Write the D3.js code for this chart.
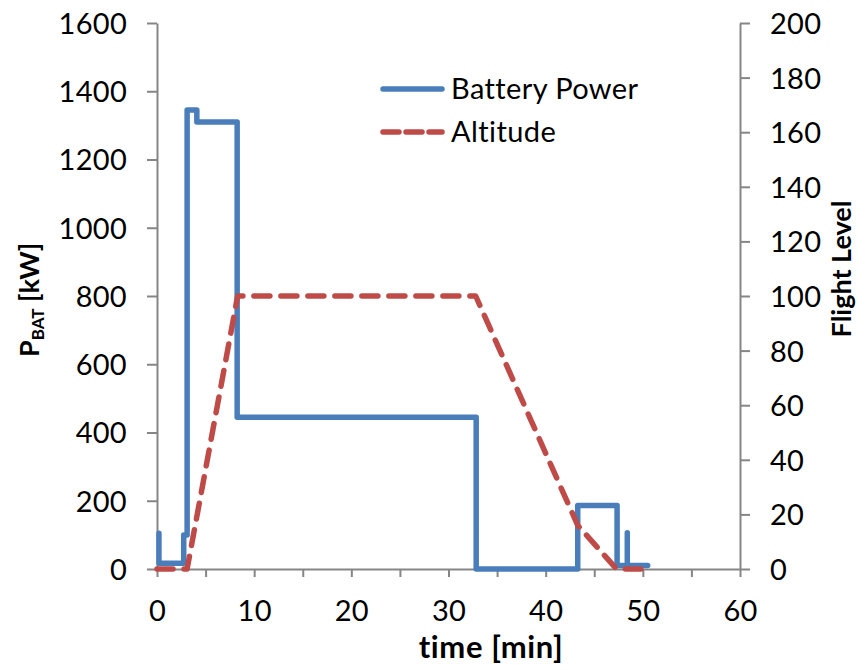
<!DOCTYPE html>
<html>
<head>
<meta charset="utf-8">
<script src="https://cdn.jsdelivr.net/npm/d3@7"></script>
<style>
  html, body { margin: 0; padding: 0; background: #fff; }
  svg { display: block; font-family: Lato, "Open Sans", sans-serif; }
</style>
</head>
<body>
<svg id="chart" width="861" height="671"></svg>
<script>
// ---- data ----
const powerTime  = [0.2, 0.2, 2.75, 2.75, 3.1, 3.1, 4.1, 4.1, 8.25, 8.25, 32.85, 32.85, 43.3, 43.3, 47.35, 47.35, 48.4, 48.4, 48.4, 50.5];
const powerValue = [105, 17, 17, 100, 100, 1345, 1345, 1310, 1310, 445, 445, 0, 0, 186, 186, 10, 10, 106, 10, 10];
const altTime    = [0, 3.1, 8.3, 32.8, 43.3, 47.3, 49.8];
const altFL      = [0, 0, 100, 100, 16, 0, 0];
const xTicks     = [0, 5, 10, 15, 20, 25, 30, 35, 40, 45, 50, 55, 60];
const yLeftTicks = [0, 200, 400, 600, 800, 1000, 1200, 1400, 1600];
const yRightTicks= [0, 20, 40, 60, 80, 100, 120, 140, 160, 180, 200];
const seriesNames = ["Battery Power", "Altitude"];

// ---- layout ----
const svg = d3.select("#chart");
const L = 157, R = 740, T = 23, B = 569;
const axisColor = "#868686";
const blue = "#4A7EBB", red = "#BE4B48";
const tickFont = 29;
const fmt = d3.format("d");

const x  = d3.scaleLinear().domain([0, 60]).range([L, R]);
const yL = d3.scaleLinear().domain([0, 1600]).range([B, T]);
const yR = d3.scaleLinear().domain([0, 200]).range([B, T]);

function styleAxis(g) {
  g.selectAll("path.domain").attr("stroke", axisColor).attr("stroke-width", 2);
  g.selectAll(".tick line").attr("stroke", axisColor).attr("stroke-width", 2);
  g.selectAll(".tick text").attr("fill", "#000").style("font-size", tickFont + "px")
    .style("letter-spacing", "0.3px")
    .style("font-family", "Lato, 'Open Sans', sans-serif");
}

// left axis
const gL = svg.append("g").attr("transform", `translate(${L},0)`)
  .call(d3.axisLeft(yL).tickValues(yLeftTicks).tickFormat(fmt).tickSize(10).tickSizeOuter(0).tickPadding(20));
styleAxis(gL);
gL.selectAll(".tick text").attr("dy", "0.36em");

// right axis
const gR = svg.append("g").attr("transform", `translate(${R},0)`)
  .call(d3.axisRight(yR).tickValues(yRightTicks).tickFormat(fmt).tickSize(10).tickSizeOuter(0).tickPadding(20));
styleAxis(gR);
gR.selectAll(".tick text").attr("dy", "0.36em");

// bottom axis
const gX = svg.append("g").attr("transform", `translate(0,${B})`)
  .call(d3.axisBottom(x).tickValues(xTicks).tickSize(8).tickSizeOuter(0)
    .tickFormat(d => d % 10 === 0 ? fmt(d) : ""));
styleAxis(gX);
gX.selectAll(".tick text").attr("y", 52).attr("dy", 0);

// ---- series ----
const powerData = powerTime.map((t, i) => [t, powerValue[i]]);
const altData = altTime.map((t, i) => [t, altFL[i]]);

svg.append("path")
  .datum(powerData)
  .attr("fill", "none")
  .attr("stroke", blue)
  .attr("stroke-width", 5.5)
  .attr("stroke-linejoin", "round")
  .attr("stroke-linecap", "round")
  .attr("d", d3.line().x(d => x(d[0])).y(d => yL(d[1])));

svg.append("path")
  .datum(altData)
  .attr("fill", "none")
  .attr("stroke", red)
  .attr("stroke-width", 5.5)
  .attr("stroke-linejoin", "round")
  .attr("stroke-linecap", "round")
  .attr("stroke-dasharray", "16,11")
  .attr("d", d3.line().x(d => x(d[0])).y(d => yR(d[1])));

// ---- legend ----
const legendY = [89, 132];
const legend = svg.append("g");
seriesNames.forEach((name, i) => {
  const ln = legend.append("line")
    .attr("x1", 383).attr("x2", 442)
    .attr("y1", legendY[i]).attr("y2", legendY[i])
    .attr("stroke", i === 0 ? blue : red)
    .attr("stroke-width", 5.5)
    .attr("stroke-linecap", "round");
  if (i === 1) ln.attr("stroke-dasharray", "16,7");
  legend.append("text")
    .attr("x", 451).attr("y", legendY[i]).attr("dy", "0.36em")
    .style("font-size", tickFont + "px")
    .style("letter-spacing", "0.4px")
    .text(name);
});

// ---- axis titles ----
svg.append("text")
  .attr("x", 491).attr("y", 658)
  .attr("text-anchor", "middle")
  .style("font-size", "31px").style("font-weight", "bold")
  .style("letter-spacing", "0.6px")
  .text("time [min]");

const yt = svg.append("text")
  .attr("transform", "translate(39,300) rotate(-90)")
  .attr("text-anchor", "middle")
  .style("font-size", "27px").style("font-weight", "bold");
yt.append("tspan").text("P");
yt.append("tspan").attr("dy", 5).style("font-size", "17px").text("BAT");
yt.append("tspan").attr("dy", -5).text(" [kW]");

svg.append("text")
  .attr("transform", "translate(851,269) rotate(-90)")
  .attr("text-anchor", "middle")
  .style("font-size", "27px").style("font-weight", "bold")
  .text("Flight Level");
</script>
</body>
</html>
